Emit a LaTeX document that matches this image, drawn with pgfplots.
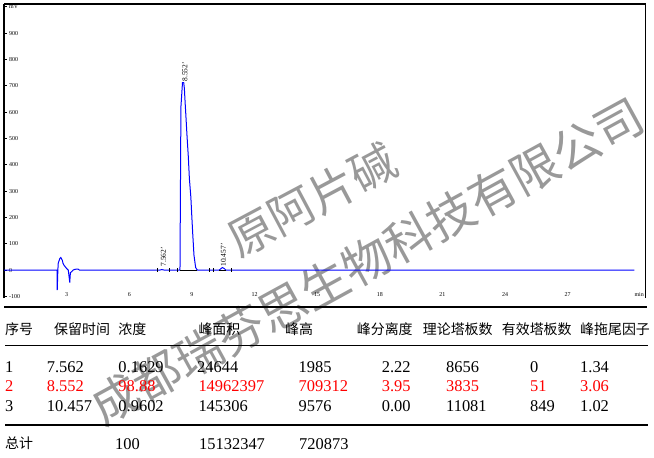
\documentclass[border=0pt]{standalone}
\usepackage{fontspec}
\setmainfont{Liberation Serif}
\newfontfamily\cjk{Noto Sans CJK SC}
\usepackage{pgfplots}
\pgfplotsset{compat=1.18}
\newcommand\num[3]{\node[anchor=base west,inner sep=0pt,font=\fontsize{16.5}{18}\selectfont] at (#1,#2) {#3};}
\newcommand\rnum[3]{\node[anchor=base west,inner sep=0pt,text=red,font=\fontsize{16.5}{18}\selectfont] at (#1,#2) {#3};}
\newcommand\hd[3]{\node[anchor=base west,inner sep=0pt,font=\cjk\fontsize{14}{16}\selectfont] at (#1,#2) {#3};}
\begin{document}
\begin{tikzpicture}
\useasboundingbox (0,0) rectangle (654bp,-458bp);
% watermark
\begin{scope}[x=1bp,y=-1bp]
\node[rotate=28, text=black!40, font=\cjk\fontsize{46}{46}\selectfont, inner sep=0pt] at (312,200) {原阿片碱};
\node[rotate=28.7, text=black!40, font=\cjk\fontsize{48}{48}\selectfont, inner sep=0pt] at (367,261) {成都瑞芬思生物科技有限公司};
\end{scope}
\begin{axis}[
  at={(4bp,-298bp)}, anchor=south west,
  scale only axis, width=641.5bp, height=294bp,
  xmin=0, xmax=30.73, ymin=-106, ymax=1011,
  separate axis lines,
  x axis line style={draw=none},
  y axis line style={line width=1.3bp},
  ytick={-100,0,100,200,300,400,500,600,700,800,900,1000},
  yticklabels={-100,0,100,200,300,400,500,600,700,800,900,mV},
  ytick pos=left, tick align=inside,
  major tick length=3bp,
  ytick style={black, line width=0.8bp},
  yticklabel style={anchor=west, inner sep=0pt, xshift=5bp, font=\fontsize{6}{7}\selectfont},
  xtick={3,6,9,12,15,18,21,24,27,30.43},
  xticklabels={3,6,9,12,15,18,21,24,27,min},
  xtick style={draw=none},
  xticklabel style={anchor=south, inner sep=0pt, yshift=1.5bp, font=\fontsize{6}{7}\selectfont},
]
\addplot[blue, line width=1bp] coordinates {
(0,0)(2.54,0)(2.55,-76)(2.58,0)(2.60,27)(2.68,45)(2.72,48)(2.79,38)(2.83,25)(2.87,19)(3.00,6)(3.08,0)(3.15,-47)(3.18,-10)(3.24,-6)(3.31,0)(3.40,3)(3.51,4)(3.57,3)(3.61,0)
(7.45,0)(7.56,2)(7.68,0)
(8.43,0)(8.44,140)(8.475,620)(8.55,712)(8.61,712)(8.64,690)(8.67,646)(8.72,577)(8.77,506)(8.83,430)(8.88,348)(8.95,278)(8.99,215)(9.04,139)(9.10,57)(9.18,10)(9.26,0)
(10.31,0)(10.40,6)(10.46,9.6)(10.55,6)(10.63,0)(30.2,0)};
\addplot[black, line width=1bp] coordinates {(8.43,0)(9.26,0)};
\addplot[black, line width=1bp] coordinates {(10.31,0)(10.63,0)};
\addplot[only marks, mark=|, mark size=2bp, black, mark options={line width=0.8bp}] coordinates {(7.34,0)(7.94,0)(8.31,0)(9.83,0)(10.01,0)(10.87,0)};
\node[rotate=90, anchor=west, inner sep=0pt, font=\fontsize{7.5}{8}\selectfont] at (axis cs:8.67,716) {8.552'};
\node[rotate=90, anchor=west, inner sep=0pt, font=\fontsize{7.5}{8}\selectfont] at (axis cs:7.64,13) {7.562'};
\node[rotate=90, anchor=west, inner sep=0pt, font=\fontsize{7.5}{8}\selectfont] at (axis cs:10.51,13) {10.457'};
\end{axis}
\begin{scope}[x=1bp,y=-1bp]
\draw[line width=1.3bp] (4,4) -- (645.5,4);
\draw[line width=1.3bp] (4,307) -- (647,307);
\draw[line width=1.3bp] (5,345.7) -- (648,345.7);
\draw[line width=1.3bp] (5,425) -- (648,425);
% header
\hd{5}{334.5}{序号}
\hd{54}{334.5}{保留时间}
\hd{118.3}{334.5}{浓度}
\hd{198.3}{334.5}{峰面积}
\hd{285}{334.5}{峰高}
\hd{356.7}{334.5}{峰分离度}
\hd{422.7}{334.5}{理论塔板数}
\hd{501.7}{334.5}{有效塔板数}
\hd{580}{334.5}{峰拖尾因子}
% row 1
\num{5}{372.7}{1}
\num{46.7}{372.7}{7.562}
\num{118.3}{372.7}{0.1629}
\num{197}{372.7}{24644}
\num{298.5}{372.7}{1985}
\num{381.7}{372.7}{2.22}
\num{446}{372.7}{8656}
\num{530}{372.7}{0}
\num{580}{372.7}{1.34}
% row 2
\rnum{5}{391.7}{2}
\rnum{46.7}{391.7}{8.552}
\rnum{118.3}{391.7}{98.88}
\rnum{198.3}{391.7}{14962397}
\rnum{298.5}{391.7}{709312}
\rnum{381.7}{391.7}{3.95}
\rnum{446}{391.7}{3835}
\rnum{530}{391.7}{51}
\rnum{580}{391.7}{3.06}
% row 3
\num{5}{411}{3}
\num{46.7}{411}{10.457}
\num{118.3}{411}{0.9602}
\num{198.3}{411}{145306}
\num{298.5}{411}{9576}
\num{381.7}{411}{0.00}
\num{446}{411}{11081}
\num{530}{411}{849}
\num{580}{411}{1.02}
% total
\hd{5}{448.6}{总计}
\num{115}{449.5}{100}
\num{199}{449.5}{15132347}
\num{299}{449.5}{720873}
\end{scope}
\end{tikzpicture}
\end{document}
